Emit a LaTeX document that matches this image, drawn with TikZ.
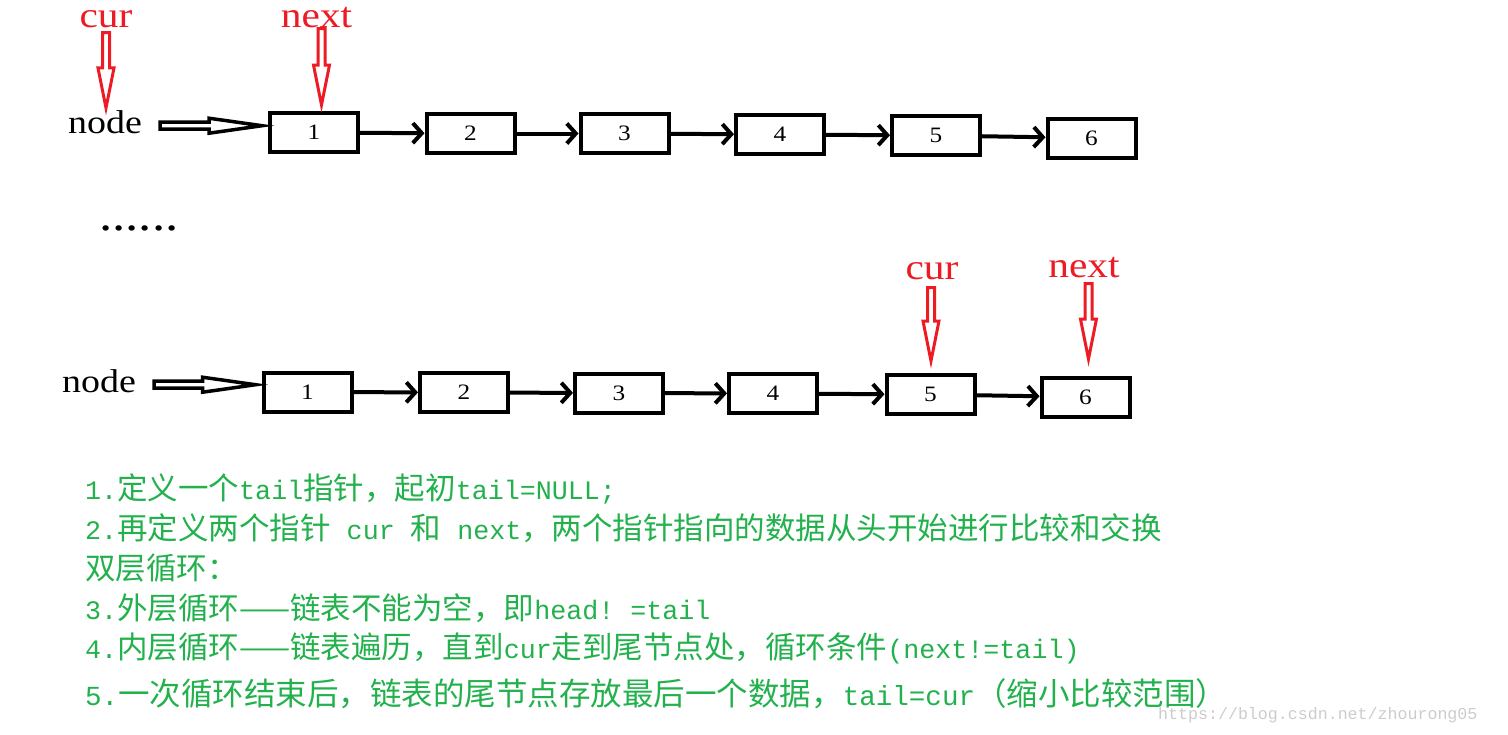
\documentclass[tikz,border=0pt]{standalone}
\usepackage{fontspec}
\usetikzlibrary{arrows.meta,calc}
\newfontfamily\cjk{Noto Sans CJK SC}
\newfontfamily\wideserif[FakeStretch=1.15]{Liberation Serif}
\setmonofont[Scale=0.875]{Liberation Mono}
\definecolor{paintred}{RGB}{237,28,36}
\definecolor{paintgreen}{RGB}{34,177,76}
\newcommand\en[1]{{\ttfamily #1}}
\newcommand\redpointer[2]{%
  \draw[pointer] let \p1=#1, \p2=#2 in
    (\x1-3.5pt,\y1) -- (\x1-3.5pt,\y2+40pt) -- (\x1-8pt,\y2+40pt) -- (\x1,\y2)
    -- (\x1+8pt,\y2+40pt) -- (\x1+3.5pt,\y2+40pt) -- (\x1+3.5pt,\y1) -- cycle;}
\newcommand\fatpointer[2]{%
  \draw[hollow] let \p1=#1, \p2=#2 in
    (\x1,\y1+3.5pt) -- (\x2-53pt,\y1+3.5pt) -- (\x2-53pt,\y1+7.5pt) -- (\x2,\y1)
    -- (\x2-53pt,\y1-7.5pt) -- (\x2-53pt,\y1-3.5pt) -- (\x1,\y1-3.5pt) -- cycle;}
\begin{document}
\begin{tikzpicture}[x=1pt, y=-1pt,
  box/.style={draw, line width=4pt, minimum width=88pt, minimum height=39pt, inner sep=0pt, font=\wideserif\fontsize{22}{24}\selectfont},
  link/.style={line width=4pt, -{Straight Barb[length=9pt,width=20pt]}},
  ptr/.style={text=paintred, font=\wideserif\fontsize{36}{40}\selectfont, inner sep=0pt, anchor=base},
  lbl/.style={font=\wideserif\fontsize{33}{36}\selectfont, inner sep=0pt, anchor=base},
  pointer/.style={draw=paintred, line width=3pt},
  hollow/.style={draw=black, line width=3.5pt},
  note/.style={text=paintgreen, font=\cjk\fontsize{30.5}{34}\selectfont, inner sep=0pt, anchor=west}]
  \useasboundingbox (0,0) rectangle (1508,734);

  % Top list
  \foreach \i/\x/\y in {1/314/132.5, 2/470.5/133.5, 3/624.5/133.5, 4/780/134.5, 5/936/135.5, 6/1091.5/138}
    \node[box] (a\i) at (\x,\y) {\i};
  \foreach \i/\j in {1/2, 2/3, 3/4, 4/5, 5/6}
    \draw[link] (a\i) -- (a\j);
  \node[lbl] (n1) at (105,133) {node};
  \node[ptr] (c1) at (106,27) {cur};
  \node[ptr] (x1) at (316.5,27) {next};
  \redpointer{([yshift=-5pt]c1.south)}{([yshift=2pt]n1.north)}
  \redpointer{([shift={(5pt,-1pt)}]x1.south)}{([yshift=6pt]a1.north)}
  \fatpointer{([shift={(18pt,-4pt)}]n1.east)}{([xshift=-6pt]a1.west)}

  \node[font=\wideserif\fontsize{46}{50}\selectfont, inner sep=0pt, anchor=base west] (dots) at (99,230) {......};

  % Bottom list
  \foreach \i/\x/\y in {1/307.5/392, 2/464/392.5, 3/619/393, 4/773/393.5, 5/930.5/394.5, 6/1085.5/397}
    \node[box] (b\i) at (\x,\y) {\i};
  \foreach \i/\j in {1/2, 2/3, 3/4, 4/5, 5/6}
    \draw[link] (b\i) -- (b\j);
  \node[lbl] (n2) at (99,392) {node};
  \node[ptr] (c2) at (932,279) {cur};
  \node[ptr] (x2) at (1084,277) {next};
  \redpointer{([shift={(-1pt,-8pt)}]c2.south)}{([yshift=12pt]b5.north)}
  \redpointer{([shift={(4.5pt,-6pt)}]x2.south)}{([yshift=16.5pt]b6.north)}
  \fatpointer{([shift={(18pt,-4pt)}]n2.east)}{([xshift=-6pt]b1.west)}

  % Notes
  \node[note] (t1) at (85,489) {\en{1.}定义一个\en{tail}指针，起初\en{tail=NULL;}};
  \node[note] (t2) at (85,528) {\en{2.}再定义两个指针\en{ cur }和\en{ next}，两个指针指向的数据从头开始进行比较和交换};
  \node[note] (t3) at (85,568) {双层循环：};
  \node[note] (t4) at (85,608) {\en{3.}外层循环——链表不能为空，即\en{head! =tail}};
  \node[note] (t5) at (85,648) {\en{4.}内层循环——链表遍历，直到\en{cur}走到尾节点处，循环条件\en{(next!=tail)}};
  \node[note, font=\cjk\fontsize{31.5}{35}\selectfont] (t6) at (85,694) {\en{5.}一次循环结束后，链表的尾节点存放最后一个数据，\en{tail=cur}（缩小比较范围）};
  \node[font=\ttfamily\fontsize{19}{20}\selectfont, text=gray!40, inner sep=0pt, anchor=west] (wm) at (1158,715) {https://blog.csdn.net/zhourong05};
\end{tikzpicture}
\end{document}
